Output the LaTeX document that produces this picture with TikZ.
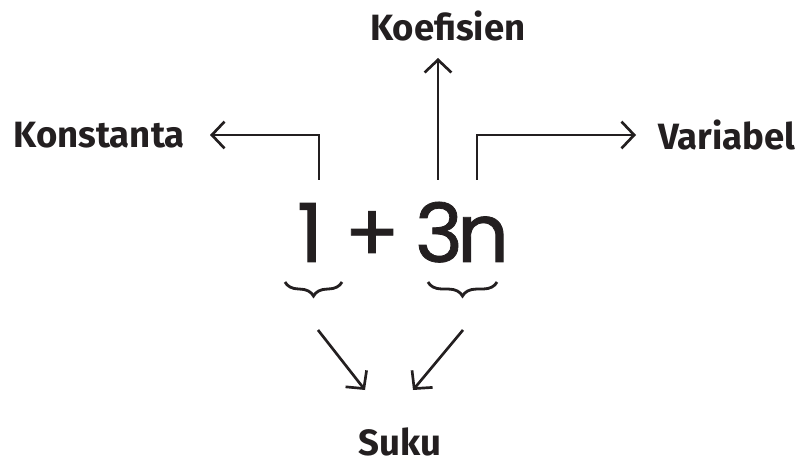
\documentclass[tikz,border=0pt]{standalone}
\usepackage{fontspec}
\setmainfont{Fira Sans}
\newfontfamily\exprfont[FakeBold=1]{Poppins}
\usetikzlibrary{arrows.meta,decorations.pathreplacing,positioning}
\definecolor{ink}{HTML}{231F20}
\tikzset{
  arr/.style={draw=ink,line width=1.9pt,-{Straight Barb[length=9pt,width=19pt,line width=1.9pt]}},
  lbl/.style={font=\bfseries\fontsize{26}{30}\selectfont,text=ink,inner sep=0pt},
  term/.style={font=\exprfont\fontsize{58}{64}\selectfont,text=ink,inner sep=0pt,anchor=base},
  brc/.style={draw=ink,line width=2pt,decorate,decoration={brace,mirror,amplitude=10pt}}
}
\begin{document}
\begin{tikzpicture}[x=0.025cm,y=-0.025cm]
	\useasboundingbox (0,0) rectangle (796,465);
	% the expression
	\node[term] (one) at (310,262) {1};
	\node[term] (plus) at (372,262) {+};
	\node[term] (three) at (439,262) {3};
	\node[term] (n) at (483,262) {n};
	% labels
	\node[lbl,anchor=south] (koef) at (448,41) {Koefisien};
	\node[lbl,anchor=east] (konst) at (185,135) {Konstanta};
	\node[lbl,anchor=west] (var) at (658,135) {Variabel};
	\node[lbl] (suku) at (400,442) {Suku};
	% arrow feet above the terms
	\coordinate (konstfoot) at (319,180);
	\coordinate (koeffoot) at (438,180);
	\coordinate (varfoot) at (477,180);
	\coordinate (koeftip) at (438,58);
	\coordinate (konsttip) at (210,135);
	\coordinate (vartip) at (636,135);
	% arrows up
	\draw[arr] (konstfoot) |- (konsttip);
	\draw[arr] (koeffoot) -- (koeftip);
	\draw[arr] (varfoot) |- (vartip);
	% braces
	\draw[brc] (285,282) -- (342,282) coordinate[midway] (b1);
	\draw[brc] (428,282) -- (497,282) coordinate[midway] (b2);
	% arrows down
	\coordinate (f1) at (318,330);
	\coordinate (f2) at (463,330);
	\coordinate (s1) at (365,390);
	\coordinate (s2) at (413,390);
	\draw[arr] (f1) -- (s1);
	\draw[arr] (f2) -- (s2);
\end{tikzpicture}
\end{document}
